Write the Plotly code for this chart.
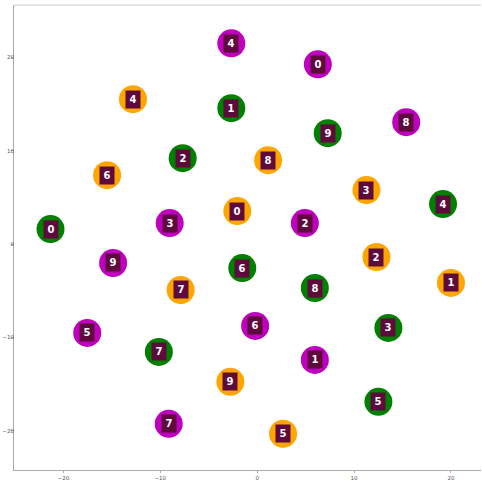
import plotly.graph_objects as go

# Cluster centroids (t-SNE embedding), grouped by colour
magenta_labels = ["4", "0", "8", "3", "2", "9", "6", "5", "1", "7"]
magenta_x = [-2.67, 6.26, 15.38, -9.03, 4.92, -14.87, -0.21, -17.54, 5.95, -9.13]
magenta_y = [21.5, 19.25, 13.05, 2.25, 2.25, -2.03, -8.77, -9.52, -12.41, -19.25]

orange_labels = ["4", "8", "6", "3", "0", "2", "1", "7", "9", "5"]
orange_x = [-12.82, 1.13, -15.49, 11.28, -2.05, 12.31, 20.0, -7.9, -2.77, 2.67]
orange_y = [15.51, 8.98, 7.38, 5.78, 3.53, -1.39, -4.17, -4.92, -14.76, -20.32]

green_labels = ["1", "9", "2", "4", "0", "6", "8", "3", "7", "5"]
green_x = [-2.67, 7.28, -7.69, 19.18, -21.33, -1.54, 5.95, 13.54, -10.15, 12.51]
green_y = [14.55, 11.87, 9.2, 4.28, 1.6, -2.57, -4.71, -8.98, -11.55, -16.9]

tick_vals = [-20, -10, 0, 10, 20]
tick_text = ["\u221220", "\u221210", "0", "10", "20"]

groups = [
    (magenta_labels, magenta_x, magenta_y, "#bf00bf"),
    (orange_labels, orange_x, orange_y, "#ffa500"),
    (green_labels, green_x, green_y, "#008000"),
]

fig = go.Figure()
annotations = []
for labels, xs, ys, col in groups:
    fig.add_trace(go.Scatter(
        x=xs, y=ys, mode="markers",
        marker=dict(color=col, size=28, line=dict(width=0)),
        hoverinfo="skip", showlegend=False,
    ))
    for lab, x, y in zip(labels, xs, ys):
        annotations.append(dict(
            x=x, y=y, text="<b>%s</b>" % lab, showarrow=False,
            font=dict(family="DejaVu Sans", size=10, color="white"),
            bgcolor="#5e0a3c", borderpad=2, width=10, height=13,
        ))

axis_common = dict(
    showgrid=False, zeroline=False, showline=True, linecolor="#aaaaaa",
    linewidth=1, ticks="outside", ticklen=2, tickcolor="#aaaaaa",
    tickfont=dict(family="DejaVu Sans", size=5.5, color="#555555"),
    tickvals=tick_vals, ticktext=tick_text, automargin=False,
)

fig.update_layout(
    width=482, height=482,
    margin=dict(l=14, r=1, t=5, b=12, pad=0),
    paper_bgcolor="white", plot_bgcolor="white",
    xaxis=dict(range=[-25.1, 23.1], **axis_common),
    yaxis=dict(range=[-24.2, 25.6], ticklabelstandoff=-4, **axis_common),
    annotations=annotations,
    shapes=[dict(type="line", xref="paper", yref="paper", x0=0, x1=1, y0=1, y1=1,
                 line=dict(color="#cccccc", width=1))],
)

fig.write_html(
    "out.html",
    config={"displayModeBar": False},
    post_script="document.body.style.margin='0';document.body.style.overflow='hidden';",
)
